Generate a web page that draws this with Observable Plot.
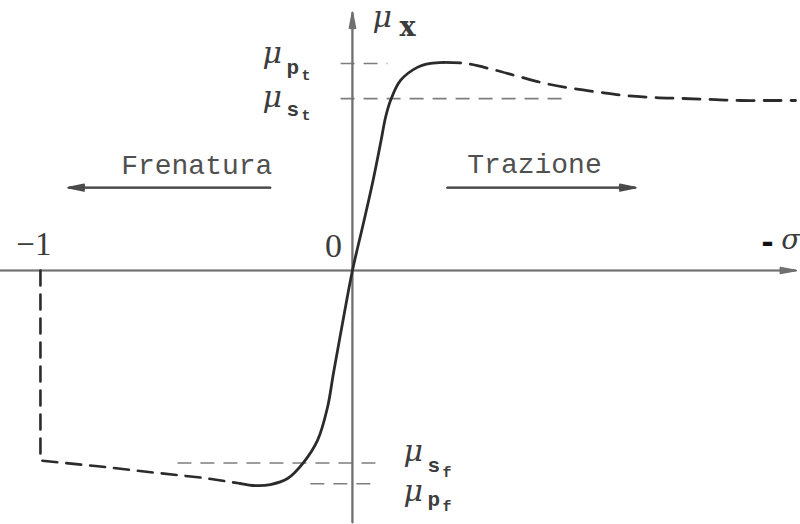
<!DOCTYPE html>
<html>
<head>
<meta charset="utf-8">
<script src="https://cdn.jsdelivr.net/npm/d3@7"></script>
<script src="https://cdn.jsdelivr.net/npm/@observablehq/plot@0.6"></script>
<style>
  html, body { margin: 0; padding: 0; background: #fff; }
  #chart svg { display: block; }
</style>
</head>
<body>
<div id="chart"></div>
<script>
// Longitudinal friction coefficient μx against slip σ (braking σ < 0, traction σ > 0)

// braking branch beyond the peak, up to the locked wheel (σ = −1)
const brakingTailSigma = [-1.000, -0.808, -0.638, -0.487, -0.359];
const brakingTailMu    = [-0.918, -0.947, -0.976, -1.000, -1.029];

// stable part of the curve, through the origin
const coreSigma = [-0.359, -0.311, -0.263, -0.208, -0.157, -0.112, -0.080, -0.061, -0.032, 0.000,
                   0.035, 0.064, 0.090, 0.106, 0.122, 0.154, 0.208, 0.250, 0.292];
const coreMu    = [-1.029, -1.039, -1.034, -1.005, -0.928, -0.821, -0.662, -0.498, -0.256, 0.000,
                   0.227, 0.420, 0.614, 0.739, 0.821, 0.918, 0.981, 1.000, 1.005];

// traction branch beyond the peak, settling on the sliding value
const tractionTailSigma = [0.292, 0.362, 0.449, 0.532, 0.619, 0.705, 0.795, 0.875, 0.962, 1.051, 1.147, 1.244, 1.340, 1.420];
const tractionTailMu    = [1.005, 1.000, 0.971, 0.937, 0.903, 0.879, 0.860, 0.845, 0.836, 0.831, 0.826, 0.821, 0.821, 0.821];

// peak (p) and sliding (s) levels, traction (t) and braking (f)
const levelNames  = ["p", "s", "s", "p"];
const levelSides  = ["t", "t", "f", "f"];
const levelValues = [1.00, 0.83, -0.93, -1.03];
const levelFrom   = [-0.038, -0.038, -0.561, -0.135];
const levelTo     = [0.112, 0.683, 0.083, 0.064];

// axes extents and marked slip value
const sigmaExtent = [-1.128, 1.422];
const muExtent    = [-1.217, 1.246];
const lockedSigma = -1;

// direction arrows
const directionLabels = ["Frenatura", "Trazione"];
const arrowFrom = [-0.263, 0.304];
const arrowTo   = [-0.910, 0.907];
const arrowMu   = 0.40;

// ---- tables built from the arrays above
const brakingTail = [{sigma: lockedSigma, mu: 0}]
  .concat(brakingTailSigma.map((s, i) => ({sigma: s, mu: brakingTailMu[i]})));
const core = coreSigma.map((s, i) => ({sigma: s, mu: coreMu[i]}));
const tractionTail = tractionTailSigma.map((s, i) => ({sigma: s, mu: tractionTailMu[i]}));
const levels = levelValues.map((mu, i) => ({
  mu, name: levelNames[i], side: levelSides[i], from: levelFrom[i], to: levelTo[i]
}));
const arrows = directionLabels.map((label, i) => ({label, from: arrowFrom[i], to: arrowTo[i], mu: arrowMu}));

const ink = "#2b2b2b";
const axisInk = "#707070";
const textInk = "#3c3c3c";
const greek = "DejaVu Serif";
const mono = "Liberation Mono";

// filled-looking arrowheads: a few nested chevrons
function axisArrow(data, opts) {
  return [22, 14, 7].map(angle => Plot.arrow(data, {
    ...opts, headAngle: angle, headLength: 15, stroke: axisInk, strokeWidth: 1.6
  }));
}

// μ with a subscript and a second-level subscript
function levelLabel(d, dx, dy, subDy, subsubDy) {
  const base = {x: () => 0, y: "mu", textAnchor: "start", lineAnchor: "bottom", fill: textInk};
  return [
    Plot.text([d], {...base, text: () => "μ", dx, dy, fontFamily: greek, fontStyle: "italic", fontSize: 30}),
    Plot.text([d], {...base, text: "name", dx: dx + 24, dy: dy + subDy, fontFamily: mono, fontSize: 21, fontWeight: "bold"}),
    Plot.text([d], {...base, text: "side", dx: dx + 39, dy: dy + subsubDy, fontFamily: mono, fontSize: 15, fontWeight: "bold"})
  ];
}

const chart = Plot.plot({
  width: 800,
  height: 524,
  margin: 0,
  x: {domain: [-1.128, 1.436], axis: null},
  y: {domain: [-1.227, 1.304], axis: null},
  style: {background: "#fff"},
  marks: [
    // reference levels
    Plot.link(levels, {
      x1: "from", x2: "to", y1: "mu", y2: "mu",
      stroke: "#7e7e7e", strokeWidth: 1.6, strokeDasharray: "14,9"
    }),

    // axes
    ...axisArrow([{}], {x1: () => sigmaExtent[0], x2: () => sigmaExtent[1], y1: () => 0, y2: () => 0}),
    ...axisArrow([{}], {x1: () => 0, x2: () => 0, y1: () => muExtent[0], y2: () => muExtent[1]}),

    // direction arrows
    ...[24, 14, 6].map(angle => Plot.arrow(arrows, {
      x1: "from", x2: "to", y1: "mu", y2: "mu",
      headAngle: angle, headLength: 14, stroke: "#4a4a4a", strokeWidth: 1.7
    })),

    // curve
    Plot.line(brakingTail, {x: "sigma", y: "mu", stroke: ink, strokeWidth: 2.6, strokeDasharray: "15,9", curve: "linear"}),
    Plot.line(core, {x: "sigma", y: "mu", stroke: ink, strokeWidth: 2.8, curve: "catmull-rom"}),
    Plot.line(tractionTail, {x: "sigma", y: "mu", stroke: ink, strokeWidth: 2.8, strokeDasharray: "17,10", curve: "catmull-rom"}),

    // direction labels
    Plot.text(arrows.filter(d => d.to < 0), {
      x: "from", y: "mu", text: "label", textAnchor: "end", lineAnchor: "bottom",
      dx: 2, dy: -14, fontFamily: mono, fontSize: 28, fill: "#505050"
    }),
    Plot.text(arrows.filter(d => d.to > 0), {
      x: "from", y: "mu", text: "label", textAnchor: "start", lineAnchor: "bottom",
      dx: 20, dy: -15, fontFamily: mono, fontSize: 28, fill: "#505050"
    }),

    // axis titles and tick values
    Plot.text([0], {x: d => d, y: () => 0, text: d => String(d), dx: -19, dy: -13, lineAnchor: "bottom",
      fontFamily: "Liberation Serif", fontSize: 34, fill: textInk}),
    Plot.text([lockedSigma], {x: d => d, y: () => 0, text: d => "\u2212" + Math.abs(d), dx: 11, dy: -15,
      textAnchor: "end", lineAnchor: "bottom", fontFamily: "Liberation Serif", fontSize: 33, fill: textInk}),
    Plot.text([{}], {x: () => sigmaExtent[1], y: () => 0, text: () => "-", dx: -35, dy: -17,
      textAnchor: "start", lineAnchor: "bottom", fontFamily: "DejaVu Sans", fontWeight: "bold", fontSize: 30, fill: "#111"}),
    Plot.text([{}], {x: () => sigmaExtent[1], y: () => 0, text: () => "σ", dx: -15, dy: -21,
      textAnchor: "start", lineAnchor: "bottom", fontFamily: greek, fontStyle: "italic", fontSize: 28, fill: textInk}),
    Plot.text([{}], {x: () => 0, y: () => muExtent[1], text: () => "μ", dx: 20, dy: 14,
      textAnchor: "start", lineAnchor: "bottom", fontFamily: greek, fontStyle: "italic", fontSize: 30, fill: textInk}),
    Plot.text([{}], {x: () => 0, y: () => muExtent[1], text: () => "x", dx: 47, dy: 23,
      textAnchor: "start", lineAnchor: "bottom", fontFamily: greek, fontWeight: "bold", fontSize: 27, fill: textInk}),

    // level labels
    ...levelLabel(levels[0], -90, 0, 11, 17),
    ...levelLabel(levels[1], -90, 8, 9, 13),
    ...levelLabel(levels[2], 51, -2, 11, 16),
    ...levelLabel(levels[3], 51, 17, 5, 10)
  ]
});

document.getElementById("chart").appendChild(chart);
</script>
</body>
</html>
